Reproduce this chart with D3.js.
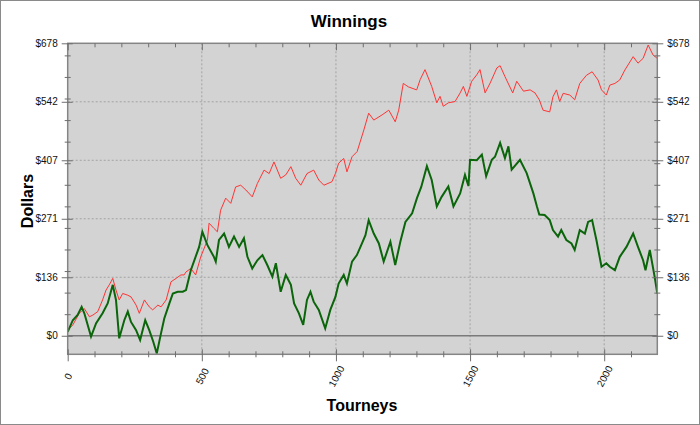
<!DOCTYPE html>
<html>
<head>
<meta charset="utf-8">
<script src="https://cdn.jsdelivr.net/npm/d3@7"></script>
<style>
  body { margin: 0; background: #fff; }
  svg { display: block; font-family: "Liberation Sans", Arial, sans-serif; }
</style>
</head>
<body>
<svg id="chart" width="700" height="425"></svg>
<script>
// red series: tourney number and dollars
var redTourneys = [0, 19, 43, 62, 81, 94, 112, 130, 143, 155,
    168, 180, 192, 205, 224, 236, 255, 267, 286, 304,
    317, 336, 348, 367, 385, 404, 422, 434, 441, 459,
    477, 496, 521, 527, 545, 558, 570, 589, 608, 626,
    645, 664, 688, 707, 732, 751, 769, 794, 813, 832,
    850, 869, 892, 917, 936, 955, 985, 998, 1010, 1029,
    1041, 1060, 1079, 1104, 1122, 1141, 1172, 1197, 1221, 1234,
    1251, 1270, 1301, 1314, 1332, 1357, 1376, 1388, 1400, 1419,
    1444, 1463, 1475, 1488, 1506, 1525, 1537, 1556, 1575, 1600,
    1612, 1630, 1659, 1674, 1699, 1724, 1742, 1758, 1772, 1797,
    1809, 1822, 1834, 1847, 1872, 1890, 1909, 1934, 1955, 1977,
    1990, 2008, 2021, 2040, 2058, 2077, 2108, 2126, 2145, 2164,
    2182, 2198];
var redValues = [13, 25, 52, 63, 44, 48, 56, 83, 106, 118,
    133, 106, 83, 98, 94, 90, 71, 52, 83, 67,
    60, 71, 67, 83, 125, 133, 141, 141, 148, 156,
    141, 183, 222, 261, 249, 241, 291, 319, 307, 345,
    349, 338, 322, 353, 384, 376, 403, 365, 373, 392,
    365, 349, 376, 384, 361, 349, 357, 376, 400, 411,
    380, 415, 427, 477, 516, 500, 512, 523, 496, 523,
    585, 577, 570, 594, 617, 578, 540, 555, 532, 540,
    543, 563, 578, 555, 590, 605, 617, 563, 586, 621,
    626, 601, 563, 590, 567, 570, 563, 547, 523, 519,
    554, 570, 543, 562, 558, 547, 585, 604, 612, 593,
    570, 558, 581, 585, 593, 616, 647, 632, 643, 674,
    651, 643];

// green series: tourney number and dollars
var greenTourneys = [0, 19, 37, 52, 62, 87, 106, 130, 149, 168,
    180, 192, 211, 224, 236, 255, 270, 289, 304, 319,
    332, 348, 360, 379, 392, 410, 429, 441, 459, 490,
    502, 521, 545, 552, 564, 583, 601, 620, 639, 657,
    670, 688, 707, 726, 744, 763, 776, 794, 813, 832,
    844, 862, 878, 892, 905, 917, 936, 960, 979, 998,
    1010, 1029, 1041, 1060, 1078, 1097, 1110, 1122, 1141, 1160,
    1178, 1203, 1221, 1240, 1259, 1284, 1302, 1318, 1339, 1357,
    1376, 1394, 1419, 1438, 1463, 1481, 1494, 1500, 1525, 1544,
    1560, 1581, 1593, 1612, 1630, 1643, 1655, 1686, 1711, 1736,
    1749, 1758, 1778, 1797, 1809, 1828, 1840, 1859, 1878, 1890,
    1909, 1928, 1940, 1955, 1971, 1990, 2008, 2021, 2040, 2058,
    2083, 2108, 2126, 2145, 2154, 2170, 2188, 2198];
var greenValues = [9, 36, 48, 67, 52, -2, 29, 52, 75, 118,
    83, -6, 36, 56, 32, 13, -10, 36, 13, -14,
    -41, 6, 40, 75, 98, 102, 102, 106, 152, 206,
    241, 210, 183, 172, 222, 237, 206, 230, 206, 226,
    183, 156, 175, 187, 164, 137, 168, 102, 141, 118,
    75, 52, 25, 83, 102, 79, 60, 17, 60, 90,
    121, 141, 121, 172, 187, 214, 233, 268, 237, 214,
    172, 218, 164, 218, 264, 284, 319, 345, 393, 361,
    300, 322, 346, 300, 330, 373, 347, 408, 407, 420,
    370, 408, 415, 447, 412, 439, 385, 408, 377, 330,
    300, 281, 280, 268, 245, 230, 245, 222, 214, 199,
    245, 237, 264, 268, 222, 160, 168, 160, 152, 183,
    206, 237, 206, 175, 152, 199, 137, 98];

var lastTourney = 2198;
var yMax = 678, yMin = -43;
var yLabelTicks = [0, 1, 2, 3, 4, 5].map(function (i) { return yMax * i / 5; });
var yMinorTicks = d3.range(50, 678, 50);
var xLabelTicks = [0, 500, 1000, 1500, 2000];
var xMinorTicks = d3.range(100, lastTourney, 100).filter(function (d) { return d % 500 != 0; });

var svg = d3.select("#chart");
var pLeft = 67.7, pRight = 657.3, pTop = 43.3, pBottom = 354.3;

var x = d3.scaleLinear().domain([0, lastTourney]).range([pLeft, pRight]);
var y = d3.scaleLinear().domain([yMin, yMax]).range([pBottom, pTop]);

// outer border
svg.append("rect")
    .attr("x", 0.5).attr("y", 0.5)
    .attr("width", 699).attr("height", 424)
    .attr("fill", "#fff")
    .attr("stroke", "#8a8a8a");

// plot background
svg.append("rect")
    .attr("x", pLeft).attr("y", pTop)
    .attr("width", pRight - pLeft).attr("height", pBottom - pTop)
    .attr("fill", "#d3d3d3");

// grid
var grid = svg.append("g").attr("stroke", "#a3a3a3").attr("stroke-dasharray", "2,2");
grid.selectAll("line.h")
    .data(yLabelTicks.slice(1, 5))
    .enter().append("line")
    .attr("x1", pLeft).attr("x2", pRight)
    .attr("y1", function (d) { return y(d); })
    .attr("y2", function (d) { return y(d); });
grid.selectAll("line.v")
    .data(xLabelTicks.slice(1))
    .enter().append("line")
    .attr("y1", pTop).attr("y2", pBottom)
    .attr("x1", function (d) { return x(d); })
    .attr("x2", function (d) { return x(d); });

// zero line
svg.append("line")
    .attr("x1", pLeft).attr("x2", pRight)
    .attr("y1", y(0)).attr("y2", y(0))
    .attr("stroke", "#7a7a7a")
    .attr("stroke-width", 1.5);

// series
svg.append("clipPath").attr("id", "clip")
    .append("rect")
    .attr("x", pLeft).attr("y", pTop)
    .attr("width", pRight - pLeft).attr("height", pBottom - pTop);

function seriesLine(ts, values) {
    return d3.line()
        .x(function (d, i) { return x(ts[i]); })
        .y(function (d) { return y(d); })(values);
}

svg.append("path")
    .attr("d", seriesLine(redTourneys, redValues))
    .attr("clip-path", "url(#clip)")
    .attr("fill", "none")
    .attr("stroke", "#ff3333")
    .attr("stroke-width", 1);

svg.append("path")
    .attr("d", seriesLine(greenTourneys, greenValues))
    .attr("clip-path", "url(#clip)")
    .attr("fill", "none")
    .attr("stroke", "#0b650b")
    .attr("stroke-width", 2);

// plot frame
svg.append("rect")
    .attr("x", pLeft).attr("y", pTop)
    .attr("width", pRight - pLeft).attr("height", pBottom - pTop)
    .attr("fill", "none")
    .attr("stroke", "#858585")
    .attr("stroke-width", 1.5);

// axes: ticks cross the frame
function styleAxis(g) {
    g.select(".domain").remove();
    g.selectAll("line").attr("stroke", "#6e6e6e");
    g.selectAll("text").attr("fill", "#111").style("font-size", "10px");
}

var xBottomMinor = svg.append("g").attr("transform", "translate(0," + pBottom + ")")
    .call(d3.axisBottom(x).tickValues(xMinorTicks).tickSize(3).tickFormat(""));
xBottomMinor.selectAll("line").attr("y1", -3);
styleAxis(xBottomMinor);

var xBottom = svg.append("g").attr("transform", "translate(0," + pBottom + ")")
    .call(d3.axisBottom(x).tickValues(xLabelTicks).tickSize(7).tickFormat(d3.format("d")));
xBottom.selectAll("line").attr("y1", -5);
xBottom.selectAll("text")
    .attr("y", 0).attr("dy", "0.35em")
    .attr("text-anchor", "middle")
    .attr("transform", "translate(0,22) rotate(-62)");
styleAxis(xBottom);

var xTopMinor = svg.append("g").attr("transform", "translate(0," + pTop + ")")
    .call(d3.axisBottom(x).tickValues(xMinorTicks).tickSize(4).tickFormat(""));
styleAxis(xTopMinor);
var xTop = svg.append("g").attr("transform", "translate(0," + pTop + ")")
    .call(d3.axisBottom(x).tickValues(xLabelTicks).tickSize(7).tickFormat(""));
styleAxis(xTop);

var dollars = function (d) { return "$" + Math.round(d); };

var yLeftMinor = svg.append("g").attr("transform", "translate(" + pLeft + ",0)")
    .call(d3.axisLeft(y).tickValues(yMinorTicks).tickSize(3).tickFormat(""));
yLeftMinor.selectAll("line").attr("x1", 3);
styleAxis(yLeftMinor);
var yLeft = svg.append("g").attr("transform", "translate(" + pLeft + ",0)")
    .call(d3.axisLeft(y).tickValues(yLabelTicks).tickSize(6).tickPadding(4).tickFormat(dollars));
yLeft.selectAll("line").attr("x1", 5);
styleAxis(yLeft);

var yRightMinor = svg.append("g").attr("transform", "translate(" + pRight + ",0)")
    .call(d3.axisRight(y).tickValues(yMinorTicks).tickSize(3).tickFormat(""));
yRightMinor.selectAll("line").attr("x1", -3);
styleAxis(yRightMinor);
var yRight = svg.append("g").attr("transform", "translate(" + pRight + ",0)")
    .call(d3.axisRight(y).tickValues(yLabelTicks).tickSize(6).tickPadding(4).tickFormat(dollars));
yRight.selectAll("line").attr("x1", -5);
styleAxis(yRight);

// titles
svg.append("text")
    .attr("x", 349).attr("y", 27)
    .attr("text-anchor", "middle")
    .style("font-size", "17px").style("font-weight", "bold")
    .text("Winnings");

svg.append("text")
    .attr("x", 362).attr("y", 411)
    .attr("text-anchor", "middle")
    .style("font-size", "16px").style("font-weight", "bold")
    .text("Tourneys");

svg.append("text")
    .attr("transform", "translate(33,201) rotate(-90)")
    .attr("text-anchor", "middle")
    .style("font-size", "16px").style("font-weight", "bold")
    .text("Dollars");
</script>
</body>
</html>
